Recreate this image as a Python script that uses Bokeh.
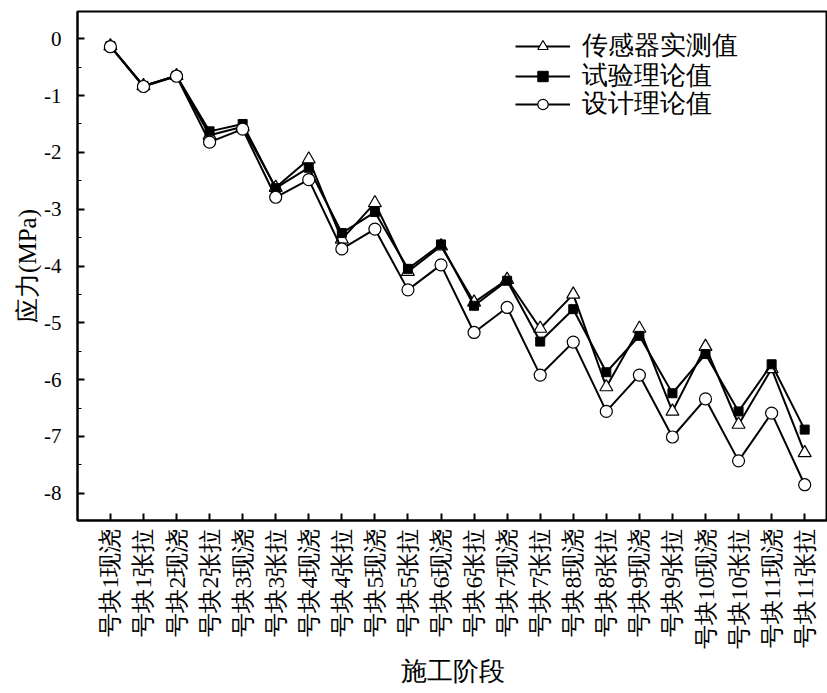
import math
from bokeh.plotting import figure
from bokeh.models import Range1d, FixedTicker, Legend, LegendItem
from bokeh.embed import file_html
from bokeh.resources import INLINE

stages = ["号块1现浇", "号块1张拉", "号块2现浇", "号块2张拉", "号块3现浇", "号块3张拉",
          "号块4现浇", "号块4张拉", "号块5现浇", "号块5张拉", "号块6现浇", "号块6张拉",
          "号块7现浇", "号块7张拉", "号块8现浇", "号块8张拉", "号块9现浇", "号块9张拉",
          "号块10现浇", "号块10张拉", "号块11现浇", "号块11张拉"]

sensor = [-0.13, -0.83, -0.65, -1.70, -1.55, -2.62, -2.12, -3.53, -2.89, -4.10, -3.65,
          -4.64, -4.24, -5.10, -4.50, -6.13, -5.10, -6.56, -5.42, -6.79, -5.81, -7.29]
test = [-0.13, -0.83, -0.65, -1.63, -1.50, -2.63, -2.27, -3.42, -3.05, -4.05, -3.62,
        -4.70, -4.26, -5.33, -4.76, -5.87, -5.23, -6.24, -5.55, -6.56, -5.73, -6.88]
design = [-0.14, -0.84, -0.66, -1.82, -1.59, -2.79, -2.48, -3.70, -3.35, -4.42, -3.98,
          -5.17, -4.73, -5.92, -5.34, -6.56, -5.92, -7.01, -6.34, -7.43, -6.59, -7.85]

series_names = ["传感器实测值", "试验理论值", "设计理论值"]
y_ticks = [0, -1, -2, -3, -4, -5, -6, -7, -8]
y_tick_labels = ["0", "-1", "-2", "-3", "-4", "-5", "-6", "-7", "-8"]

FONT = "Liberation Serif"

xs = list(range(len(stages)))

p = figure(width=827, height=688, output_backend="svg", toolbar_location=None,
           x_range=Range1d(-0.995, 21.69), y_range=Range1d(-8.48, 0.48),
           min_border_left=77, min_border_right=0, min_border_top=11, min_border_bottom=167)
p.background_fill_color = "white"
p.border_fill_color = "white"
p.outline_line_color = "black"
p.outline_line_width = 2
p.xgrid.visible = False
p.ygrid.visible = False

# x axis
p.xaxis.ticker = FixedTicker(ticks=xs)
p.xaxis.major_label_overrides = {i: s for i, s in enumerate(stages)}
p.xaxis.major_label_orientation = math.pi / 2
p.xaxis.major_label_text_font = FONT
p.xaxis.major_label_text_font_size = "24px"
p.xaxis.major_label_text_color = "black"
p.xaxis.major_label_standoff = 8
p.xaxis.major_tick_in = 7
p.xaxis.major_tick_out = 0
p.xaxis.minor_tick_line_color = None
p.xaxis.axis_line_width = 2
p.xaxis.major_tick_line_width = 2
p.xaxis.axis_label = "施工阶段"
p.xaxis.axis_label_text_font = FONT
p.xaxis.axis_label_text_font_size = "26px"
p.xaxis.axis_label_text_font_style = "normal"
p.xaxis.axis_label_text_color = "black"
p.xaxis.axis_label_standoff = 5

# y axis
minor = [t - 0.5 for t in y_ticks] + [y_ticks[0] + 0.5]
p.yaxis.ticker = FixedTicker(ticks=y_ticks, minor_ticks=minor)
p.yaxis.major_label_overrides = {t: s for t, s in zip(y_ticks, y_tick_labels)}
p.yaxis.major_label_text_font = FONT
p.yaxis.major_label_text_font_size = "21px"
p.yaxis.major_label_text_color = "black"
p.yaxis.major_label_standoff = 16
p.yaxis.major_tick_in = 7
p.yaxis.major_tick_out = 0
p.yaxis.minor_tick_in = 4
p.yaxis.minor_tick_out = 0
p.yaxis.axis_line_width = 2
p.yaxis.major_tick_line_width = 2
p.yaxis.axis_label = "应力(MPa)"
p.yaxis.axis_label_text_font = FONT
p.yaxis.axis_label_text_font_size = "25px"
p.yaxis.axis_label_text_font_style = "normal"
p.yaxis.axis_label_text_color = "black"
p.yaxis.axis_label_standoff = 0

l1 = p.line(xs, sensor, line_color="black", line_width=2)
s1 = p.scatter(xs, sensor, marker="triangle", size=13, fill_color="white", line_color="black", line_width=1.2)
l2 = p.line(xs, test, line_color="black", line_width=2)
s2 = p.scatter(xs, test, marker="square", size=9, fill_color="black", line_color="black")
l3 = p.line(xs, design, line_color="black", line_width=2)
s3 = p.scatter(xs, design, marker="circle", size=12, fill_color="white", line_color="black", line_width=1.2)

legend_rows = [(series_names[0], [l1, s1], 457),
               (series_names[1], [l2, s2], 427),
               (series_names[2], [l3, s3], 399)]
for name, rends, ypos in legend_rows:
    lg = Legend(items=[LegendItem(label=name, renderers=rends)], location=(438, ypos))
    lg.label_text_font = FONT
    lg.label_text_font_size = "26px"
    lg.label_text_color = "black"
    lg.glyph_width = 55
    lg.glyph_height = 26
    lg.label_height = 26
    lg.padding = 0
    lg.margin = 0
    lg.label_standoff = 12
    lg.border_line_color = None
    lg.background_fill_alpha = 0
    p.add_layout(lg)

open("out.html", "w").write(file_html(p, INLINE))
